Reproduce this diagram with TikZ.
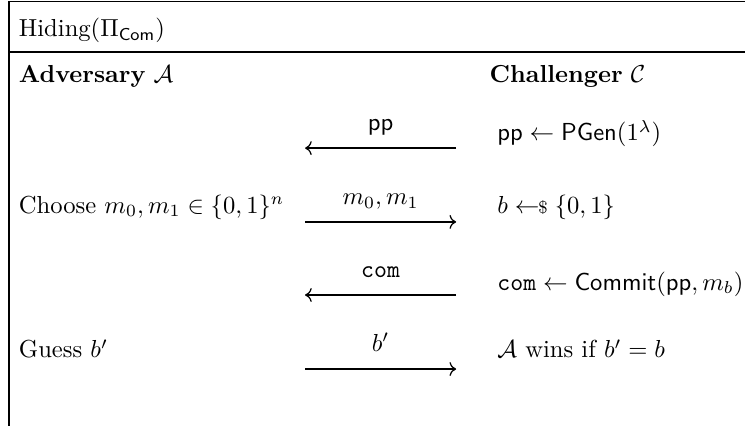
\documentclass[tikz,border=0pt]{standalone}
\usepackage{amsmath,amssymb}
\usepackage{tikz}
\usetikzlibrary{positioning,arrows.meta}
\usepackage{xcolor}

\newcommand{\smpl}{\mathrel{\leftarrow\!\!\mbox{\scriptsize\$}}}

\begin{document}
\begin{tikzpicture}[x=1pt,y=1pt,
txt/.style={anchor=base west,inner sep=0pt},
lbl/.style={anchor=base,inner sep=0pt,yshift=7.1pt},
msg/.style={-{To},line width=0.5pt},
frame/.style={line width=0.5pt}
]
\useasboundingbox (0,0) rectangle (302.8,-172.8);
\draw[frame] (3.7,-175) |- (304,-0.6);
\draw[frame] (3.7,-21.1) -- (304,-21.1);
\node[txt] (title) at (7.5,-15) {Hiding($\Pi_{\mathsf{Com}}$)};
\node[txt] (adv) at (7.5,-33.7) {\textbf{Adversary} $\mathcal{A}$};
\node[txt] (chal) at (198.8,-33.7) {\textbf{Challenger} $\mathcal{C}$};
\node[txt] (pgen) at (202,-57.3) {$\mathsf{pp} \leftarrow \mathsf{PGen}(1^\lambda)$};
\node[txt] (choose) at (7.5,-86.6) {Choose $m_0, m_1 \in \{0,1\}^n$};
\node[txt] (samp) at (202,-86.6) {$b \smpl \{0,1\}$};
\node[txt] (commit) at (202,-117.9) {$\mathtt{com} \leftarrow \mathsf{Commit}(\mathsf{pp}, m_b)$};
\node[txt] (guess) at (7.5,-145.5) {Guess $b'$};
\node[txt] (win) at (202,-145.5) {$\mathcal{A}$ wins if $b' = b$};
\coordinate (pp-l) at (124,-60.2);
\coordinate (pp-r) at (185.4,-60.2);
\coordinate (m-l) at (124,-90.2);
\coordinate (m-r) at (185.4,-90.2);
\coordinate (com-l) at (124,-119.9);
\coordinate (com-r) at (185.4,-119.9);
\coordinate (b-l) at (124,-150);
\coordinate (b-r) at (185.4,-150);
\draw[msg] (pp-r) -- node[lbl] (pplbl) {$\mathsf{pp}$} (pp-l);
\draw[msg] (m-l) -- node[lbl] (mlbl) {$m_0, m_1$} (m-r);
\draw[msg] (com-r) -- node[lbl] (comlbl) {$\mathtt{com}$} (com-l);
\draw[msg] (b-l) -- node[lbl] (blbl) {$b'$} (b-r);
\end{tikzpicture}
\end{document}
